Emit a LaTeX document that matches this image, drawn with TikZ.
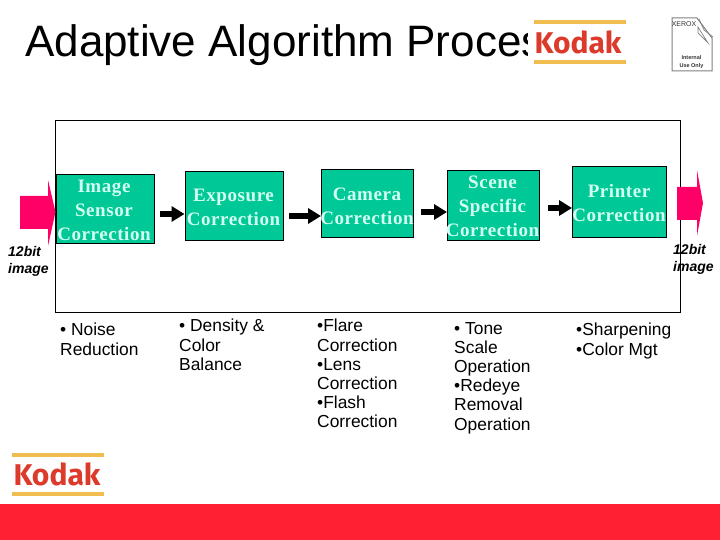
\documentclass[tikz,border=0pt]{standalone}
\usepackage{fontspec}
\setmainfont{Liberation Sans}
\newfontfamily\boxfont[LetterSpace=3]{Liberation Serif}
\newfontfamily\logofont{Fira Sans}
\definecolor{boxgreen}{HTML}{00C896}
\definecolor{boxtext}{HTML}{D2FFF2}
\definecolor{pinkred}{HTML}{FF0066}
\definecolor{kodakred}{HTML}{DC3A2A}
\definecolor{kodakyellow}{HTML}{F0BE50}
\definecolor{bandred}{HTML}{FF2033}
\usetikzlibrary{arrows.meta}
\tikzset{
  x=1pt,y=-1pt,
  stagebox/.style={draw=black,line width=0.9pt,fill=boxgreen,text=boxtext,inner sep=0pt,
    font=\boxfont\bfseries\fontsize{19}{24}\selectfont,align=center,anchor=north west},
  bodytext/.style={font=\fontsize{17.4}{19.2}\selectfont,align=left,anchor=north west,inner sep=0pt},
  iolabel/.style={font=\itshape\bfseries\fontsize{14}{16.5}\selectfont,align=left,anchor=north west,inner sep=0pt},
  flowarrow/.style={-{Triangle[length=13pt,width=15pt]},line width=6pt,draw=black},
  pinkarrow/.style={fill=pinkred,draw=none},
  kbar/.style={fill=kodakyellow,draw=none},
  kword/.style={text=kodakred,font=\logofont\bfseries\fontsize{30}{30}\selectfont,inner sep=0pt}
}
\begin{document}
\begin{tikzpicture}
\useasboundingbox (0,0) rectangle (720,540);
\fill[white] (0,0) rectangle (720,540);
\fill[bandred] (0,504) rectangle (720,540);
\node[anchor=base west,inner sep=0pt,font=\fontsize{44}{44}\selectfont] (title) at (25,57) {Adaptive Algorithm Process};
\fill[white] (528,0) rectangle (720,100);
% top logo
\fill[kbar] (534,20.5) rectangle (626,24);
\fill[kbar] (534,60.5) rectangle (626,64.5);
\node[kword] (k1) at (578,42) {Kodak};
% xerox sign
\draw[gray,line width=1pt,fill=white] (672,18) -- (697,18) -- (712,38) -- (712,71) -- (672,71) -- cycle;
\draw[gray,line width=0.7pt] (699,19) -- (704,30) -- (713,37) (698,27) -- (708,43) -- (698,33) -- cycle;
\node[inner sep=0pt,font=\fontsize{7}{8}\selectfont,text=black!80] (xr) at (684,24) {XEROX};
\node[inner sep=0pt,align=center,font=\fontsize{5.5}{7.5}\selectfont\bfseries,text=black!80] (xi) at (691.5,62) {Internal\\Use Only};
% frame
\draw[black,line width=0.9pt,fill=white] (55,120) rectangle (680,312);
% pink arrows
\path[pinkarrow] (20,196) -- (48,196) -- (48,180) -- (55.5,212) -- (48,246) -- (48,229) -- (20,229) -- cycle;
\path[pinkarrow] (677,187) -- (697,187) -- (697,170) -- (703,203) -- (697,236) -- (697,220) -- (677,220) -- cycle;
% boxes
\node[stagebox,minimum width=98pt,minimum height=68pt] (a) at (55.5,174.5) {};
\node[stagebox,minimum width=98pt,minimum height=68pt] (b) at (184.5,171.5) {};
\node[stagebox,minimum width=92pt,minimum height=68pt] (c) at (321,169) {};
\node[stagebox,minimum width=92pt,minimum height=70pt] (d) at (447,170) {};
\node[stagebox,minimum width=94pt,minimum height=71pt] (e) at (572,166) {};
\node[stagebox,draw=none,fill=none,anchor=center] (at) at (104,210) {Image\\Sensor\\Correction};
\node[stagebox,draw=none,fill=none,anchor=center] (bt) at (233.5,207) {Exposure\\Correction};
\node[stagebox,draw=none,fill=none,anchor=center] (ct) at (367,206) {Camera\\Correction};
\node[stagebox,draw=none,fill=none,anchor=center] (dt) at (492.5,206) {Scene\\Specific\\Correction};
\node[stagebox,draw=none,fill=none,anchor=center] (et) at (619,203) {Printer\\Correction};
% flow arrows
\coordinate (a1) at (160,214); \coordinate (a2) at (289,216); \coordinate (a3) at (421,212); \coordinate (a4) at (548,208);
\draw[flowarrow] (a1) -- (a1-|b.west);
\draw[flowarrow] (a2) -- (a2-|c.west);
\draw[flowarrow] (a3) -- (a3-|d.west);
\draw[flowarrow] (a4) -- (a4-|e.west);
% io labels
\node[iolabel] (il) at (8,246.5) {12bit\\image};
\node[iolabel] (ir) at (673,244.5) {12bit\\image};
% body
\node[bodytext] (ta) at (60,323) {• Noise\\Reduction};
\node[bodytext] (tb) at (179,319) {• Density \&\\Color\\Balance};
\node[bodytext] (tc) at (317,319) {•Flare\\Correction\\•Lens\\Correction\\•Flash\\Correction};
\node[bodytext] (td) at (454,322) {• Tone\\Scale\\Operation\\•Redeye\\Removal\\Operation};
\node[bodytext] (te) at (576,323) {•Sharpening\\•Color Mgt};
% bottom logo
\fill[kbar] (12,453) rectangle (104,456.5);
\fill[kbar] (12,492) rectangle (104,496);
\node[kword] (k2) at (57,474) {Kodak};
\end{tikzpicture}
\end{document}
